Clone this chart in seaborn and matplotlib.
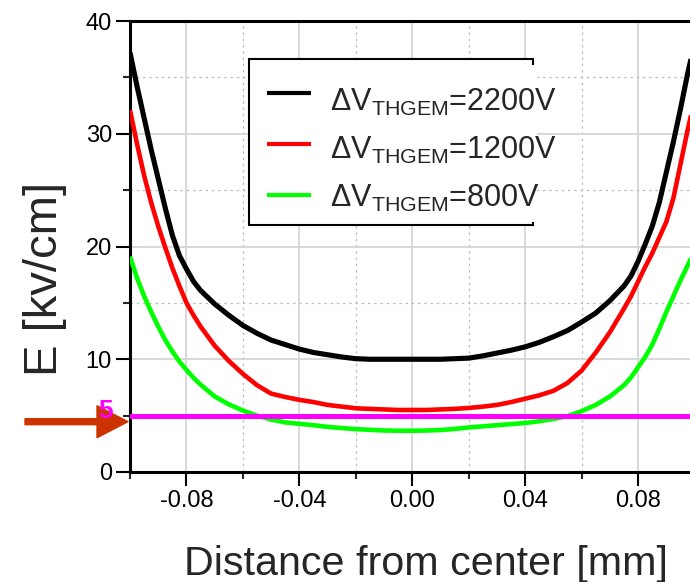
import numpy as np
import pandas as pd
import matplotlib
matplotlib.use("Agg")
import matplotlib.pyplot as plt
import seaborn as sns
from matplotlib.patches import Rectangle, FancyArrow
from matplotlib.ticker import FixedLocator, FixedFormatter, MultipleLocator

# ---------------- data ----------------
distance = [-0.1000, -0.0975, -0.0950, -0.0925, -0.0900, -0.0875, -0.0850, -0.0825,
            -0.0800, -0.0775, -0.0750, -0.070, -0.065, -0.060, -0.055, -0.050, -0.045,
            -0.040, -0.035, -0.030, -0.025, -0.020, -0.015, -0.010, -0.005, 0.000,
            0.005, 0.010, 0.015, 0.020, 0.025, 0.030, 0.035, 0.040, 0.045, 0.050,
            0.055, 0.060, 0.065, 0.070, 0.0750, 0.0775, 0.0800, 0.0825, 0.0850,
            0.0875, 0.0900, 0.0925, 0.0950, 0.0975, 0.1000]
field_2200 = [37.2, 34.2, 31.4, 28.6, 26.0, 23.4, 21.0, 19.2, 18.0, 16.9, 16.1,
              14.9, 13.9, 13.0, 12.3, 11.7, 11.3, 10.9, 10.6, 10.4, 10.2, 10.05,
              10.0, 10.0, 10.0, 10.0, 10.0, 10.0, 10.05, 10.1, 10.3, 10.55, 10.8,
              11.1, 11.5, 12.0, 12.55, 13.3, 14.1, 15.2, 16.5, 17.4, 18.7, 20.2,
              21.8, 23.9, 26.6, 29.3, 32.2, 35.3, 38.0]
field_1200 = [32.1, 29.1, 26.3, 23.9, 21.8, 19.9, 18.1, 16.5, 15.0, 13.9, 12.9,
              11.2, 9.85, 8.7, 7.7, 6.95, 6.65, 6.4, 6.2, 5.95, 5.8, 5.65, 5.6,
              5.55, 5.5, 5.5, 5.5, 5.55, 5.6, 5.68, 5.8, 5.95, 6.2, 6.5, 6.8, 7.2,
              7.9, 9.0, 10.6, 12.4, 14.5, 15.6, 16.9, 18.2, 19.4, 20.8, 22.2, 24.3,
              27.3, 30.3, 33.0]
field_800 = [19.1, 17.2, 15.6, 14.2, 12.9, 11.7, 10.7, 9.8, 9.05, 8.35, 7.75, 6.7,
             6.0, 5.45, 5.0, 4.65, 4.4, 4.27, 4.15, 4.0, 3.9, 3.8, 3.74, 3.68, 3.66,
             3.66, 3.68, 3.72, 3.82, 3.95, 4.05, 4.15, 4.25, 4.35, 4.5, 4.7, 4.95,
             5.4, 5.95, 6.7, 7.7, 8.4, 9.3, 10.2, 11.3, 12.7, 14.2, 15.6, 17.0,
             18.3, 19.6]
series_labels = ["\u0394V$_{\\mathregular{THGEM}}$=2200V",
                 "\u0394V$_{\\mathregular{THGEM}}$=1200V",
                 "\u0394V$_{\\mathregular{THGEM}}$=800V"]
series_colors = ["#000000", "#ff0000", "#00ff00"]
threshold = 5
threshold_label = "5"
xtick_values = [-0.08, -0.04, 0.00, 0.04, 0.08]
xtick_labels = ["-0.08", "-0.04", "0.00", "0.04", "0.08"]
ytick_values = [0, 10, 20, 30, 40]
ytick_labels = ["0", "10", "20", "30", "40"]
x_label = "Distance from center [mm]"
y_label = "E [kv/cm]"

n = len(distance)
df = pd.DataFrame({
    "x": distance * 3,
    "E": field_2200 + field_1200 + field_800,
    "series": [series_labels[0]] * n + [series_labels[1]] * n + [series_labels[2]] * n,
})

# ---------------- style ----------------
sns.set_style("white")
plt.rcParams["font.family"] = ["Liberation Sans", "DejaVu Sans"]
plt.rcParams["mathtext.default"] = "regular"

W, H = 690, 582
fig = plt.figure(figsize=(W / 100, H / 100), dpi=100)
ax_l, ax_r, ax_t, ax_b = 130, 694.6, 21, 472
axw, axh = ax_r - ax_l, ax_b - ax_t
ax = fig.add_axes([ax_l / W, (H - ax_b) / H, axw / W, axh / H])

widths = [3.7, 3.3, 3.3]
for lab, col, lw in zip(series_labels, series_colors, widths):
    sns.lineplot(data=df[df["series"] == lab], x="x", y="E", color=col, lw=lw,
                 label=lab, ax=ax, solid_capstyle="butt", zorder=3)

ax.axhline(threshold, color="#ff00ff", lw=3.6, solid_capstyle="round", zorder=3)

ax.set_xlim(-0.1, 0.1)
ax.set_ylim(0, 40)
ax.xaxis.set_major_locator(FixedLocator(xtick_values))
ax.xaxis.set_major_formatter(FixedFormatter(xtick_labels))
ax.xaxis.set_minor_locator(MultipleLocator(0.02))
ax.yaxis.set_major_locator(FixedLocator(ytick_values))
ax.yaxis.set_major_formatter(FixedFormatter(ytick_labels))
ax.yaxis.set_minor_locator(MultipleLocator(5))

ax.grid(which="major", color="#d6d6d6", lw=1.3, ls="-")
ax.grid(which="minor", color="#bdbdbd", lw=0.9, ls=(0, (2, 3)))
ax.set_axisbelow(True)

ax.tick_params(which="major", direction="out", length=10, width=1.5, labelsize=17,
               pad=3, color="black", labelcolor="black", top=False, right=False,
               bottom=True, left=True)
ax.tick_params(which="minor", direction="out", length=5, width=1.5, top=False,
               right=False, bottom=True, left=True)
for s in ax.spines.values():
    s.set_linewidth(2.2)
    s.set_color("black")

ax.set_xlabel(x_label, fontsize=29.7)
ax.xaxis.set_label_coords((426 - ax_l) / axw, (ax_b - 575) / axh)
ax.xaxis.label.set_va("baseline")
ax.set_ylabel(y_label, fontsize=34)
ax.yaxis.set_label_coords((57 - ax_l) / axw, (ax_b - 279) / axh)
ax.yaxis.label.set_va("baseline")

# legend
handles, labels = ax.get_legend_handles_labels()
handles = handles[:3]
labels = labels[:3]
ax.add_patch(Rectangle(((249 - ax_l) / axw, (ax_b - 225) / axh), (533 - 249) / axw,
                       (225 - 59) / axh, transform=ax.transAxes, facecolor="white",
                       edgecolor="black", lw=1.5, zorder=4))
# text boxes hide the right side of the frame
ax.add_patch(Rectangle(((530 - ax_l) / axw, (ax_b - 222) / axh), 7 / axw,
                       (222 - 65) / axh, transform=ax.transAxes, facecolor="white",
                       edgecolor="none", zorder=4.5))
leg = ax.legend(handles, labels, loc="upper left",
                bbox_to_anchor=((267 - ax_l) / axw, (ax_b - 87) / axh),
                frameon=False, fontsize=22, handlelength=1.44, handletextpad=0.62,
                labelspacing=0.55, borderpad=0, borderaxespad=0)
leg.set_zorder(5)
for h, dy in zip(leg.legend_handles, [5.2, 2.8, 0.6]):
    h.set_linewidth(3.0)
    h.set_ydata(np.asarray(h.get_ydata()) + dy)

# threshold marker
arrow = FancyArrow(25 / 100, (H - 421.7) / 100, 103 / 100, 0, width=6 / 100,
                   head_width=32 / 100, head_length=31 / 100,
                   length_includes_head=True, color="#cc3300",
                   transform=fig.dpi_scale_trans, clip_on=False, zorder=6)
ax.add_patch(arrow)
ax.annotate(threshold_label, xy=(-0.1, threshold), xytext=(-24, 5),
            textcoords="offset pixels", ha="center", va="center", color="#ff00ff",
            fontsize=19, fontweight="heavy", annotation_clip=False, zorder=7)

fig.savefig("out.png", dpi=100)
